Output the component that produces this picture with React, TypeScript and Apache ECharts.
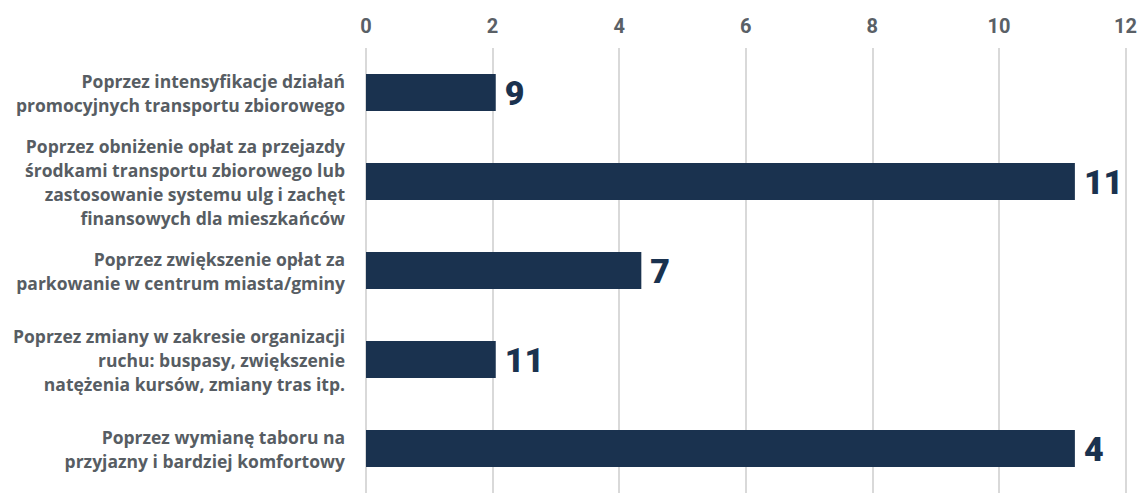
import React, { useEffect, useRef } from "react";
import * as echarts from "echarts";

const categories: string[] = [
  "Poprzez intensyfikacje działań\npromocyjnych transportu zbiorowego",
  "Poprzez obniżenie opłat za przejazdy\nśrodkami transportu zbiorowego lub\nzastosowanie systemu ulg i zachęt\nfinansowych dla mieszkańców",
  "Poprzez zwiększenie opłat za\nparkowanie w centrum miasta/gminy",
  "Poprzez zmiany w zakresie organizacji\nruchu: buspasy, zwiększenie\nnatężenia kursów, zmiany tras itp.",
  "Poprzez wymianę taboru na\nprzyjazny i bardziej komfortowy",
];

const barValues: number[] = [2.05, 11.2, 4.35, 2.05, 11.2];
const labelValues: number[] = [9, 11, 7, 11, 4];
const tickValues: number[] = [0, 2, 4, 6, 8, 10, 12];

export default function App() {
  const ref = useRef<HTMLDivElement>(null);

  useEffect(() => {
    if (!ref.current) return;
    const chart = echarts.init(ref.current, null, { renderer: "svg" });
    chart.setOption({
      animation: false,
      backgroundColor: "#ffffff",
      grid: { left: 366, right: 14, top: 48, bottom: 4, containLabel: false },
      xAxis: {
        type: "value",
        position: "top",
        min: tickValues[0],
        max: tickValues[tickValues.length - 1],
        interval: 2,
        axisLine: { show: false },
        axisTick: { show: false },
        axisLabel: {
          margin: 12,
          color: "#5a6066",
          fontSize: 20,
          fontWeight: "bold",
          fontFamily: "Roboto",
        },
        splitLine: { show: true, lineStyle: { color: "#d9d9d9", width: 2 } },
      },
      yAxis: {
        type: "category",
        inverse: true,
        data: categories,
        axisLine: { show: false },
        axisTick: { show: false },
        axisLabel: {
          margin: 21,
          color: "#575d63",
          fontSize: 17.5,
          fontWeight: 700,
          fontFamily: "Open Sans",
          lineHeight: 24,
          align: "right",
        },
      },
      series: [
        {
          type: "bar",
          data: barValues,
          barWidth: 37,
          itemStyle: { color: "#1a324f" },
          label: {
            show: true,
            position: "right",
            distance: 9,
            color: "#1a324f",
            fontSize: 34,
            fontWeight: 900,
            fontFamily: "Roboto",
            formatter: (p: any) => String(labelValues[p.dataIndex]),
          },
        },
      ],
    });
    return () => chart.dispose();
  }, []);

  return (
    <div
      ref={ref}
      style={{ position: "fixed", left: 0, top: 0, width: 1140, height: 497 }}
    />
  );
}
